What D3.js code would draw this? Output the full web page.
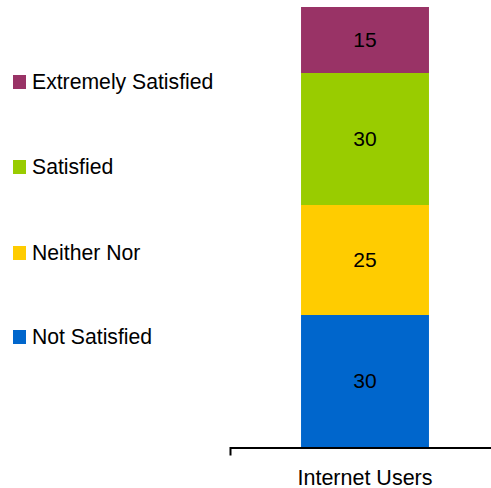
<!DOCTYPE html>
<html><head><meta charset="utf-8">
<script src="https://cdn.jsdelivr.net/npm/d3@7"></script>
<style>body{margin:0;background:#fff}svg{display:block}text{font-family:"Liberation Sans",Arial,sans-serif}</style>
</head><body><svg id="c" width="491" height="488"></svg>
<script>
const categories = ["Internet Users"];
const seriesNames = ["Not Satisfied", "Neither Nor", "Satisfied", "Extremely Satisfied"];
const seriesValues = [30, 25, 30, 15];
const seriesColors = ["#0066CC", "#FFCC00", "#99CC00", "#993366"];

const svg = d3.select("#c");
const y = d3.scaleLinear().domain([0, 100]).range([447, 7]);
const x = d3.scaleBand().domain(categories).range([230, 500]).paddingInner(0.357).paddingOuter(0.357);

let acc = 0;
const stacked = seriesValues.map((v, i) => { const d = {name: seriesNames[i], v, y0: acc, y1: acc + v, color: seriesColors[i]}; acc += v; return d; });

const g = svg.append("g");
g.selectAll("rect").data(stacked).join("rect")
  .attr("x", x(categories[0])).attr("width", x.bandwidth())
  .attr("y", d => y(d.y1)).attr("height", d => y(d.y0) - y(d.y1))
  .attr("fill", d => d.color);
g.selectAll("text.v").data(stacked).join("text").attr("class", "v")
  .attr("x", x(categories[0]) + x.bandwidth() / 2)
  .attr("y", d => (y(d.y0) + y(d.y1)) / 2)
  .attr("dy", "0.35em").attr("text-anchor", "middle")
  .attr("font-size", 21).attr("fill", "#000").text(d => d.v);

const ax = svg.append("g").attr("transform", "translate(0,447.5)")
  .call(d3.axisBottom(x).tickSizeInner(0).tickSizeOuter(8).tickPadding(0));
ax.select(".domain").attr("stroke", "#000").attr("stroke-width", 2);
ax.selectAll(".tick text").attr("font-size", 21.5).attr("fill", "#000")
  .attr("font-family", "Liberation Sans, Arial, sans-serif").attr("dy", 0).attr("y", 37);

const legendY = [337, 253, 167, 82];
const lg = svg.append("g");
stacked.forEach((d, i) => {
  lg.append("rect").attr("x", 13).attr("y", legendY[i] - 7).attr("width", 13).attr("height", 14).attr("fill", d.color);
  lg.append("text").attr("x", 32).attr("y", legendY[i]).attr("dy", "0.35em")
    .attr("font-size", 21.2).attr("fill", "#000").text(d.name);
});
</script></body></html>
